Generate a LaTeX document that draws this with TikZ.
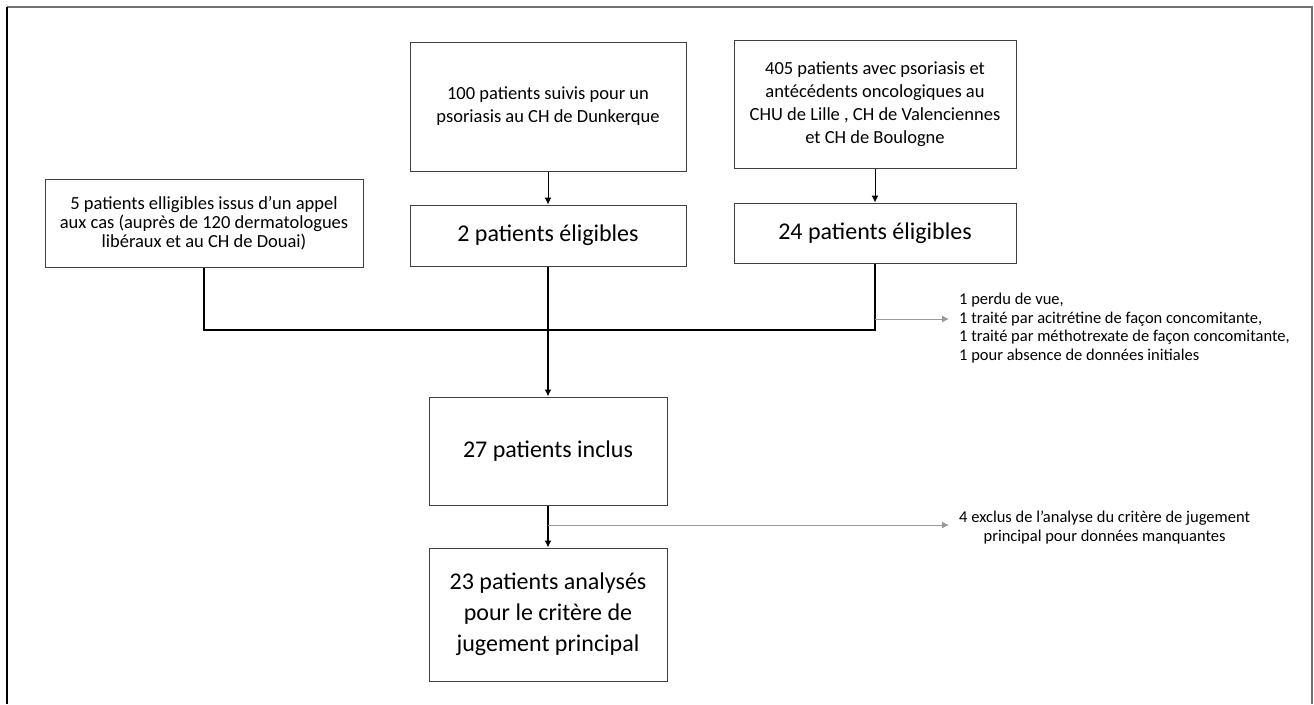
\documentclass[tikz,border=0pt]{standalone}
\usepackage{fontspec}
\setmainfont{Carlito}
\usetikzlibrary{arrows.meta}
\tikzset{
  box/.style={draw=black!75, line width=1pt, align=center, inner sep=0pt},
  small/.style={font=\fontsize{18.5}{23}\selectfont},
  mid/.style={font=\fontsize{18.5}{19}\selectfont},
  big/.style={font=\fontsize{24}{31}\selectfont},
  note/.style={font=\fontsize{16.5}{18.5}\selectfont, inner sep=0pt},
  merge/.style={line width=1.8pt},
  grayarrow/.style={->, black!40, line width=1pt}
}
\begin{document}
\begin{tikzpicture}[>={Latex[width=7pt,length=7pt]}, x=1pt, y=-1pt]
    \useasboundingbox (0,0) rectangle (1314,704);
    \draw[black!55, line width=1.2pt](7,7)--(1312,7)--(1312,704);
    \draw[line width=1.2pt](7,7)--(7,704);
    % sources
    \node[box, small, minimum width=276pt, minimum height=129pt](dunk) at (548,106.5)
        {100 patients suivis pour un\\psoriasis au CH de Dunkerque};
    \node[box, small, minimum width=282pt, minimum height=128pt](chu) at (875,104)
        {405 patients avec psoriasis et\\antécédents oncologiques au\\CHU de Lille , CH de Valenciennes\\et CH de Boulogne};
    \node[box, mid, minimum width=318pt, minimum height=88pt](appel) at (204,223)
        {5 patients elligibles issus d’un appel\\aux cas (auprès de 120 dermatologues\\libéraux et au CH de Douai)};
    \node[box, big, minimum width=276pt, minimum height=61pt](elig2) at (548,235.5){2 patients éligibles};
    \node[box, big, minimum width=282pt, minimum height=60pt](elig24) at (875,233){24 patients éligibles};
    \node[box, big, minimum width=238pt, minimum height=108pt](inclus) at (548,451){27 patients inclus};
    \node[box, big, minimum width=238pt, minimum height=133pt](analyse) at (548,614.5)
        {23 patients analysés\\pour le critère de\\jugement principal};
    % exclusions
    \node[note, align=left, anchor=west](excl1) at (959,328)
        {1 perdu de vue,\\1 traité par acitrétine de façon concomitante,\\1 traité par méthotrexate de façon concomitante,\\1 pour absence de données initiales};
    \node[note, align=center, anchor=west](excl2) at (959,527.5)
        {4 exclus de l’analyse du critère de jugement\\principal pour données manquantes};
    % connectors
    \draw[->, line width=1pt](dunk)--(elig2);
    \draw[->, line width=1pt](chu.south-|elig24.south)--(elig24);
    \coordinate (join) at (548,330);
    \draw[merge](appel.south)|-(join);
    \draw[line width=1.2pt](elig2.south)--(join);
    \draw[line width=1.2pt](elig24.south)|-(join);
    \draw[->, merge](join)--(inclus.north);
    \draw[->, line width=1.2pt](inclus)--(analyse);
    \coordinate (b1) at (elig24.south|-0,319);
    \coordinate (b2) at (548,525);
    \draw[grayarrow](b1)--([xshift=-10pt]excl1.west|-b1);
    \draw[grayarrow](b2)--([xshift=-10pt]excl2.west|-b2);
\end{tikzpicture}
\end{document}
